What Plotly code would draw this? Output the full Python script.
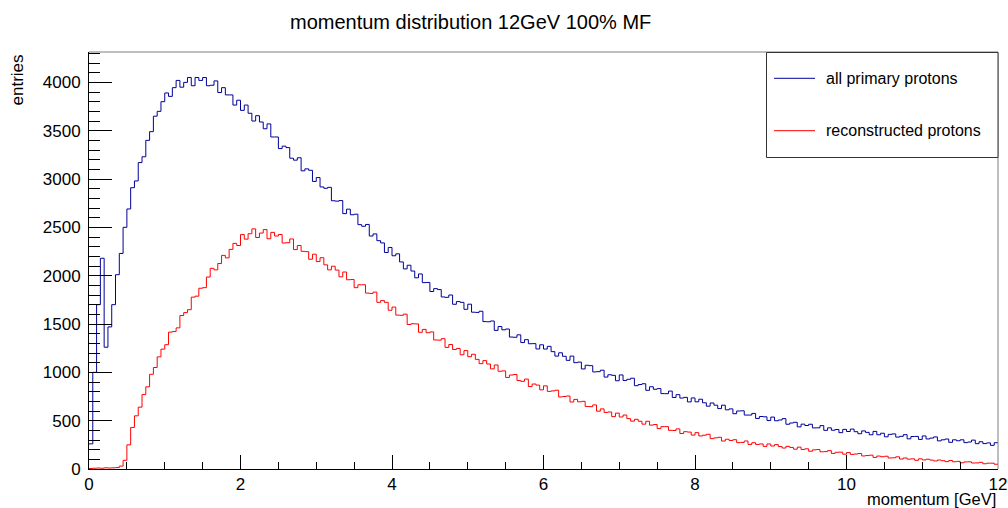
import numpy as np
import plotly.graph_objects as go

# ---------------- data ----------------
BIN_WIDTH = 0.05          # GeV
X_MIN, X_MAX = 0.0, 12.0

# all primary protons, entries per bin (bins of 0.05 GeV, 0 -> 12 GeV)
all_primary = [
    # 0 - 1 GeV
    260, 1000, 1700, 2180, 1260, 1470, 1700, 2010, 2230, 2500, 2690, 2910, 2980, 3170, 3230, 3400, 3490, 3650, 3700, 3800,
    # 1 - 2 GeV
    3890, 3855, 3945, 4020, 3950, 4000, 4050, 3965, 4050, 4020, 4050, 3965, 3970, 4015, 3895, 3945, 3870, 3870, 3765, 3815,
    # 2 - 3 GeV
    3710, 3765, 3680, 3600, 3655, 3590, 3520, 3570, 3435, 3435, 3315, 3340, 3325, 3215, 3195, 3220, 3085, 3105, 3090, 2975,
    # 3 - 4 GeV
    3015, 2918, 2904, 2914, 2775, 2771, 2777, 2642, 2688, 2630, 2636, 2528, 2511, 2530, 2410, 2432, 2362, 2339, 2240, 2292,
    # 4 - 5 GeV
    2206, 2226, 2142, 2070, 2108, 2048, 1978, 2018, 1928, 1930, 1836, 1866, 1856, 1780, 1776, 1800, 1704, 1732, 1724, 1652,
    # 5 - 6 GeV
    1705, 1622, 1620, 1632, 1525, 1523, 1531, 1434, 1474, 1440, 1448, 1365, 1363, 1388, 1308, 1338, 1296, 1297, 1242, 1285,
    # 6 - 7 GeV
    1241, 1269, 1214, 1168, 1202, 1166, 1124, 1168, 1100, 1106, 1035, 1073, 1069, 1004, 1007, 1022, 951, 975, 969, 913,
    # 7 - 8 GeV
    973, 916, 928, 939, 862, 874, 882, 814, 851, 825, 832, 780, 779, 806, 740, 769, 734, 741, 694, 735,
    # 8 - 9 GeV
    695, 722, 685, 650, 683, 660, 625, 660, 612, 622, 572, 600, 602, 558, 558, 575, 523, 543, 540, 502,
    # 9 - 10 GeV
    537, 499, 507, 521, 463, 476, 483, 436, 464, 450, 463, 425, 426, 449, 400, 426, 401, 409, 376, 410,
    # 10 - 11 GeV
    388, 413, 386, 365, 394, 379, 354, 389, 354, 370, 333, 358, 363, 330, 338, 355, 312, 336, 337, 306,
    # 11 - 12 GeV
    342, 311, 320, 332, 291, 302, 310, 276, 302, 292, 302, 273, 279, 299, 262, 282, 263, 270, 245, 272,
]

# reconstructed protons, entries per bin
reconstructed = [
    # 0 - 1 GeV
    5, 8, 10, 8, 12, 10, 12, 15, 30, 90, 250, 430, 550, 640, 770, 850, 980, 1050, 1160, 1240,
    # 1 - 2 GeV
    1286, 1416, 1422, 1460, 1588, 1618, 1648, 1778, 1788, 1870, 1876, 1986, 2076, 2060, 2126, 2210, 2184, 2272, 2334, 2312,
    # 2 - 3 GeV
    2425, 2378, 2434, 2484, 2395, 2441, 2477, 2382, 2448, 2410, 2426, 2338, 2341, 2380, 2270, 2312, 2252, 2249, 2170, 2222,
    # 3 - 4 GeV
    2146, 2186, 2112, 2060, 2098, 2058, 1988, 2038, 1958, 1960, 1876, 1906, 1906, 1820, 1816, 1830, 1724, 1742, 1724, 1642,
    # 4 - 5 GeV
    1675, 1592, 1590, 1602, 1495, 1503, 1501, 1414, 1444, 1410, 1418, 1335, 1333, 1348, 1258, 1288, 1236, 1247, 1182, 1225,
    # 5 - 6 GeV
    1162, 1187, 1134, 1090, 1121, 1086, 1036, 1076, 1011, 1015, 947, 972, 977, 915, 907, 930, 853, 879, 868, 819,
    # 6 - 7 GeV
    860, 803, 808, 815, 745, 750, 755, 693, 720, 695, 700, 647, 645, 663, 598, 622, 585, 590, 542, 578,
    # 7 - 8 GeV
    538, 558, 521, 495, 514, 494, 464, 494, 454, 460, 418, 438, 438, 400, 398, 415, 367, 386, 382, 351,
    # 8 - 9 GeV
    376, 342, 350, 359, 314, 322, 328, 289, 308, 295, 303, 273, 275, 290, 254, 272, 254, 259, 234, 259,
    # 9 - 10 GeV
    238, 252, 232, 217, 234, 223, 205, 226, 202, 209, 184, 198, 201, 178, 180, 190, 161, 173, 174, 153,
    # 10 - 11 GeV
    170, 151, 155, 160, 135, 139, 143, 120, 134, 127, 132, 114, 116, 126, 103, 114, 102, 105, 90, 105,
    # 11 - 12 GeV
    94, 101, 92, 83, 93, 86, 76, 88, 75, 79, 64, 73, 74, 62, 63, 69, 54, 60, 60, 49,
]

series_names = ["all primary protons", "reconstructed protons"]
series_colors = ["#000099", "#ff0000"]
title_text = "momentum distribution 12GeV 100% MF"
x_title = "momentum [GeV]"
y_title = "entries"
Y_MAX = 4314

# ---------------- figure ----------------
W, H = 1008, 508
L, R, T, B = 89, 10, 52, 39          # plot area: x 89..998, y 52..469
PW, PH = W - L - R, H - T - B
FONT = "Liberation Sans, Arial, Helvetica, sans-serif"


def px2x(p):
    return (p - L) / PW


def px2y(p):
    return (H - B - p) / PH


def step_xy(values):
    n = len(values)
    edges = X_MIN + BIN_WIDTH * np.arange(n + 1)
    y = list(values) + [values[-1]]
    return edges, y


fig = go.Figure()
for vals, name, col in zip([all_primary, reconstructed], series_names, series_colors):
    ex, ey = step_xy(vals)
    fig.add_trace(go.Scatter(x=ex, y=ey, mode="lines", name=name,
                             line=dict(color=col, width=1, shape="hv"),
                             showlegend=False, hoverinfo="skip"))

axis_common = dict(showgrid=False, zeroline=False, showline=True,
                   linecolor="black", linewidth=1, ticks="inside",
                   tickcolor="black", tickwidth=1, automargin=False,
                   tickfont=dict(family=FONT, size=17, color="black"))

fig.update_xaxes(range=[X_MIN, X_MAX], dtick=2, tick0=0, ticklen=14,
                 minor=dict(dtick=0.5, ticklen=7, ticks="inside", tickcolor="black"),
                 **axis_common)
fig.update_yaxes(range=[0, Y_MAX], dtick=500, tick0=0, ticklen=23,
                 minor=dict(dtick=100, ticklen=11, ticks="inside", tickcolor="black"),
                 ticklabelstandoff=4,
                 **axis_common)

shapes = [
    # frame (top / right in grey)
    dict(type="line", xref="paper", yref="paper", x0=0, x1=1, y0=1, y1=1,
         line=dict(color="#7f7f7f", width=1)),
    dict(type="line", xref="paper", yref="paper", x0=1, x1=1, y0=0, y1=1,
         line=dict(color="#7f7f7f", width=1)),
    # legend box
    dict(type="rect", xref="paper", yref="paper",
         x0=px2x(766.5), x1=px2x(998), y0=px2y(157.5), y1=px2y(52.5),
         line=dict(color="#333333", width=1), fillcolor="white", layer="above"),
]
annotations = [
    dict(text=title_text, xref="paper", yref="paper", x=px2x(470), y=px2y(22),
         xanchor="center", yanchor="middle", showarrow=False,
         font=dict(family=FONT, size=20, color="black")),
    dict(text=y_title, xref="paper", yref="paper", x=px2x(17), y=px2y(53),
         xanchor="center", yanchor="top", textangle=-90, showarrow=False,
         font=dict(family=FONT, size=17, color="black")),
    dict(text=x_title, xref="paper", yref="paper", x=1.0, y=px2y(499),
         xanchor="right", yanchor="middle", showarrow=False,
         font=dict(family=FONT, size=16.5, color="black")),
]
leg_rows = [78.3, 130.7]
for name, col, yy in zip(series_names, series_colors, leg_rows):
    shapes.append(dict(type="line", xref="paper", yref="paper",
                       x0=px2x(774), x1=px2x(815), y0=px2y(yy), y1=px2y(yy),
                       line=dict(color=col, width=1), layer="above"))
    annotations.append(dict(text=name, xref="paper", yref="paper",
                            x=px2x(824), y=px2y(yy), xanchor="left", yanchor="middle",
                            showarrow=False,
                            font=dict(family=FONT, size=16, color="black")))

fig.update_layout(width=W, height=H, margin=dict(l=L, r=R, t=T, b=B),
                  paper_bgcolor="white", plot_bgcolor="white",
                  shapes=shapes, annotations=annotations,
                  font=dict(family=FONT))

fig.write_html("out.html", config={"displayModeBar": False},
               post_script="document.body.style.margin='0';"
                           "document.body.style.overflow='hidden';")
